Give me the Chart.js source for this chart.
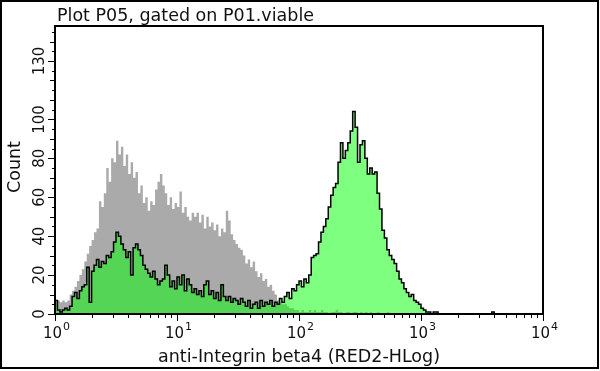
<!DOCTYPE html>
<html>
<head>
<meta charset="utf-8">
<script src="https://cdn.jsdelivr.net/npm/chart.js@4.4.1/dist/chart.umd.min.js"></script>
<style>
  html, body { margin: 0; padding: 0; background: #fff; }
  canvas { display: block; }
</style>
</head>
<body>
<canvas id="histo" width="600" height="371"></canvas>
<script>
// channel width in decades (log10 units), channels start at 10^0
const binWidth = 0.02;

// isotype control (grey)
const greyCounts = [
  8, 6, 7, 6, 7, 6, 7, 10, 12, 14,
  17, 20, 23, 27, 31, 35, 38, 42, 44, 58,
  55, 62, 75, 68, 80, 78, 89, 82, 86, 76,
  82, 72, 78, 70, 73, 62, 66, 57, 60, 53,
  58, 56, 64, 68, 72, 66, 62, 56, 60, 54,
  57, 55, 63, 52, 55, 50, 48, 52, 50, 52,
  47, 51, 44, 50, 45, 47, 43, 46, 40, 44,
  42, 53, 48, 41, 38, 36, 34, 33, 30, 26,
  28, 24, 27, 22, 19, 21, 17, 18, 14, 15,
  12, 10, 7, 6, 5, 5, 4, 3, 3, 2,
  2, 1, 2, 1, 1, 2, 1, 2, 1, 1,
  2, 1, 1, 0, 1, 1, 2, 1, 1, 0,
  1, 1, 0, 1, 1, 0, 1, 0, 1, 0,
  1, 0, 0, 1, 0, 0, 0, 1, 0, 0,
  0, 0, 0, 0, 0, 0, 0, 0, 0, 0,
  0, 0, 0, 0, 0, 0, 0, 0, 0, 0,
  0, 0, 0, 0, 0, 0, 0, 0, 0, 0,
  0, 0, 0, 0, 0, 0, 0, 0, 0, 0,
  0, 0, 0, 0, 0, 0, 0, 0, 0, 0,
  0, 0, 0, 0, 0, 0, 0, 0, 0, 0
];

// anti-Integrin beta4 stained sample (green)
const greenCounts = [
  29, 7, 2, 1, 2, 3, 2, 4, 9, 11,
  8, 12, 14, 15, 24, 6, 22, 25, 28, 24,
  27, 26, 30, 29, 32, 37, 42, 40, 36, 33,
  29, 32, 20, 34, 36, 33, 30, 25, 23, 21,
  19, 22, 18, 15, 17, 18, 25, 20, 14, 17,
  13, 19, 15, 20, 12, 18, 15, 11, 13, 10,
  12, 9, 15, 17, 10, 12, 8, 11, 7, 15,
  9, 7, 9, 6, 8, 7, 5, 8, 6, 4,
  7, 3, 5, 6, 3, 7, 4, 6, 5, 7,
  4, 6, 5, 8, 6, 9, 11, 8, 13, 12,
  15, 17, 14, 18, 16, 20, 29, 30, 31, 37,
  42, 45, 49, 55, 61, 65, 67, 78, 88, 80,
  84, 88, 94, 104, 96, 78, 87, 89, 80, 72,
  75, 72, 73, 62, 54, 43, 39, 33, 30, 28,
  26, 22, 18, 16, 13, 11, 9, 10, 7, 6,
  5, 3, 2, 1, 1, 0, 1, 1, 0, 0,
  0, 0, 0, 0, 0, 0, 0, 0, 0, 0,
  0, 0, 0, 0, 0, 0, 0, 0, 0, 0,
  1, 0, 0, 0, 0, 0, 0, 0, 0, 0,
  0, 0, 0, 0, 0, 0, 0, 0, 0, 0
];

const xDecades = [0, 1, 2, 3, 4];
const xMinorSteps = [2, 3, 4, 5, 6, 7, 8, 9];
const yTickLabels = [0, 20, 40, 60, 80, 100, 130];
const yTickStep = 5;
const yMax = 148;

const plotTitle = 'Plot P05, gated on P01.viable';
const xTitle = 'anti-Integrin beta4 (RED2-HLog)';
const yTitle = 'Count';

const FONT = '"DejaVu Sans", Verdana, sans-serif';

// stepped histogram: start at the baseline, then one point per channel
function toSteps(counts) {
  const pts = [{ x: 0, y: 0 }];
  counts.forEach((c, i) => pts.push({ x: i * binWidth, y: c }));
  pts.push({ x: counts.length * binWidth, y: 0 });
  return pts;
}

const decor = {
  id: 'decor',
  afterDraw(chart) {
    const { ctx, chartArea: a, scales: { x, y } } = chart;
    ctx.save();
    ctx.strokeStyle = '#000';
    ctx.fillStyle = '#111';

    // outer frame
    ctx.lineWidth = 2;
    ctx.strokeRect(1, 1, 597, 367);

    // plot frame
    ctx.strokeRect(a.left, a.top, a.right - a.left, a.bottom - a.top);

    // x ticks
    ctx.lineWidth = 1;
    ctx.beginPath();
    xDecades.forEach(d => {
      const px = Math.round(x.getPixelForValue(d)) + 0.5;
      ctx.moveTo(px, a.bottom);
      ctx.lineTo(px, a.bottom + 7);
      if (d < 4) {
        xMinorSteps.forEach(k => {
          const mx = Math.round(x.getPixelForValue(d + Math.log10(k))) + 0.5;
          ctx.moveTo(mx, a.bottom);
          ctx.lineTo(mx, a.bottom + 4);
        });
      }
    });
    // y ticks
    for (let v = 0; v <= yMax; v += yTickStep) {
      const py = Math.round(y.getPixelForValue(v)) + 0.5;
      const len = yTickLabels.includes(v) ? 7 : (v % 10 === 0 ? 5 : 3);
      ctx.moveTo(a.left, py);
      ctx.lineTo(a.left - len, py);
    }
    ctx.stroke();

    // x tick labels 10^n
    ctx.textBaseline = 'alphabetic';
    xDecades.forEach(d => {
      const px = x.getPixelForValue(d);
      ctx.font = '15px ' + FONT;
      const baseW = ctx.measureText('10').width;
      ctx.font = '11px ' + FONT;
      const expW = ctx.measureText(String(d)).width;
      const left = px - (baseW + expW) / 2 + 1;
      ctx.textAlign = 'left';
      ctx.font = '15px ' + FONT;
      ctx.fillText('10', left, a.bottom + 24);
      ctx.font = '11px ' + FONT;
      ctx.fillText(String(d), left + baseW + 1, a.bottom + 16);
    });

    // y tick labels, rotated
    ctx.font = '15px ' + FONT;
    ctx.textAlign = 'center';
    ctx.textBaseline = 'middle';
    yTickLabels.forEach(v => {
      ctx.save();
      ctx.translate(a.left - 15, y.getPixelForValue(v));
      ctx.rotate(-Math.PI / 2);
      ctx.fillText(String(v), 0, 0);
      ctx.restore();
    });

    // titles
    ctx.font = '17.5px ' + FONT;
    ctx.textAlign = 'left';
    ctx.textBaseline = 'alphabetic';
    ctx.fillText(plotTitle, a.left + 2, 21);

    ctx.textAlign = 'center';
    ctx.fillText(xTitle, (a.left + a.right) / 2, 362);

    ctx.save();
    ctx.translate(20, (a.top + a.bottom) / 2 - 3);
    ctx.rotate(-Math.PI / 2);
    ctx.fillText(yTitle, 0, 0);
    ctx.restore();

    ctx.restore();
  }
};

new Chart(document.getElementById('histo'), {
  type: 'line',
  data: {
    datasets: [
      {
        label: 'anti-Integrin beta4',
        data: toSteps(greenCounts),
        stepped: 'after',
        fill: 'origin',
        backgroundColor: 'rgba(0, 255, 0, 0.5)',
        borderColor: '#000',
        borderWidth: 1.5,
        pointRadius: 0,
        order: 1
      },
      {
        label: 'isotype',
        data: toSteps(greyCounts),
        stepped: 'after',
        fill: 'origin',
        backgroundColor: 'rgb(170, 170, 170)',
        borderWidth: 0,
        pointRadius: 0,
        order: 2
      }
    ]
  },
  options: {
    responsive: false,
    animation: false,
    layout: { padding: { left: 0, right: 57, top: 26, bottom: 0 } },
    plugins: {
      legend: { display: false },
      tooltip: { enabled: false }
    },
    scales: {
      x: {
        type: 'linear',
        min: 0,
        max: 4,
        ticks: { display: false },
        grid: { display: false },
        border: { display: false },
        afterFit: s => { s.height = 57; }
      },
      y: {
        min: 0,
        max: yMax,
        ticks: { display: false },
        grid: { display: false },
        border: { display: false },
        afterFit: s => { s.width = 55; }
      }
    }
  },
  plugins: [decor]
});
</script>
</body>
</html>
